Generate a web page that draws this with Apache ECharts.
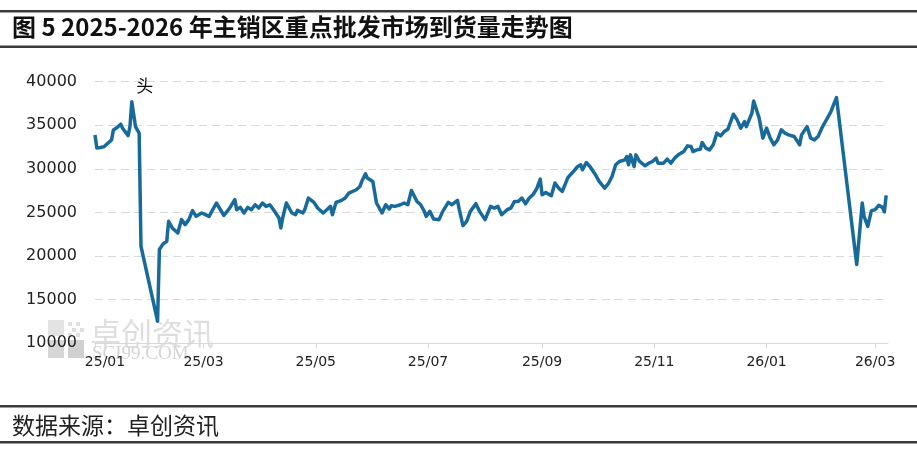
<!DOCTYPE html>
<html>
<head>
<meta charset="utf-8">
<script src="https://cdn.jsdelivr.net/npm/echarts@6/dist/echarts.min.js"></script>
<style>
html,body{margin:0;padding:0;background:#fff;}
#chart{width:917px;height:452px;}
</style>
</head>
<body>
<div id="chart"></div>
<script>
const titleText = '图 5 2025-2026 年主销区重点批发市场到货量走势图';
const sourceText = '数据来源：卓创资讯';
const annotationText = '头';
const annotationDate = '2025-01-28';
const annotationValue = 39600;

const dates = [
'2025-01-01','2025-01-02','2025-01-04','2025-01-06','2025-01-08','2025-01-10','2025-01-11','2025-01-13','2025-01-15','2025-01-16',
'2025-01-19','2025-01-20','2025-01-21','2025-01-22','2025-01-23','2025-01-24','2025-01-25','2025-01-26','2025-02-04','2025-02-05',
'2025-02-07','2025-02-09','2025-02-10','2025-02-12','2025-02-13','2025-02-15','2025-02-17','2025-02-19','2025-02-21','2025-02-23',
'2025-02-25','2025-02-28','2025-03-02','2025-03-04','2025-03-08','2025-03-12','2025-03-15','2025-03-18','2025-03-19','2025-03-21',
'2025-03-23','2025-03-25','2025-03-27','2025-03-29','2025-03-31','2025-04-02','2025-04-04','2025-04-06','2025-04-08','2025-04-11',
'2025-04-12','2025-04-13','2025-04-15','2025-04-18','2025-04-20','2025-04-21','2025-04-24','2025-04-25','2025-04-27','2025-04-30',
'2025-05-02','2025-05-05','2025-05-07','2025-05-09','2025-05-10','2025-05-12','2025-05-15','2025-05-17','2025-05-19','2025-05-20',
'2025-05-23','2025-05-25','2025-05-26','2025-05-28','2025-05-29','2025-06-01','2025-06-03','2025-06-06','2025-06-08','2025-06-10',
'2025-06-11','2025-06-13','2025-06-16','2025-06-18','2025-06-20','2025-06-22','2025-06-25','2025-06-27','2025-06-29','2025-06-30',
'2025-07-02','2025-07-04','2025-07-07','2025-07-09','2025-07-12','2025-07-14','2025-07-17','2025-07-18','2025-07-20','2025-07-22',
'2025-07-24','2025-07-27','2025-07-29','2025-08-01','2025-08-04','2025-08-06','2025-08-08','2025-08-10','2025-08-13','2025-08-15',
'2025-08-17','2025-08-19','2025-08-21','2025-08-23','2025-08-25','2025-08-27','2025-08-29','2025-08-31','2025-09-01','2025-09-03',
'2025-09-06','2025-09-08','2025-09-10','2025-09-12','2025-09-15','2025-09-18','2025-09-20','2025-09-22','2025-09-23','2025-09-25',
'2025-09-27','2025-09-30','2025-10-02','2025-10-05','2025-10-07','2025-10-09','2025-10-11','2025-10-13','2025-10-16','2025-10-17',
'2025-10-18','2025-10-19','2025-10-21','2025-10-22','2025-10-24','2025-10-27','2025-10-29','2025-10-31','2025-11-02','2025-11-03',
'2025-11-06','2025-11-08','2025-11-10','2025-11-12','2025-11-14','2025-11-17','2025-11-19','2025-11-21','2025-11-22','2025-11-24',
'2025-11-26','2025-11-27','2025-11-29','2025-12-01','2025-12-03','2025-12-05','2025-12-07','2025-12-09','2025-12-11','2025-12-14',
'2025-12-16','2025-12-18','2025-12-20','2025-12-21','2025-12-24','2025-12-25','2025-12-28','2025-12-30','2026-01-01','2026-01-03',
'2026-01-05','2026-01-07','2026-01-09','2026-01-11','2026-01-13','2026-01-16','2026-01-17','2026-01-19','2026-01-20','2026-01-23',
'2026-01-25','2026-01-27','2026-01-29','2026-01-31','2026-02-03','2026-02-05','2026-02-06','2026-02-08','2026-02-19','2026-02-22',
'2026-02-23','2026-02-25','2026-02-27','2026-03-01','2026-03-03','2026-03-05','2026-03-06','2026-03-07'
];

const values = [
33900,32400,32450,32560,32950,33330,34470,34740,35130,34670,
33820,34850,37710,37530,34850,34470,34100,21120,12540,20750,
21400,21700,23990,23230,23410,22650,24180,23610,24180,25210,
24560,24940,24750,24560,26090,24670,25440,26470,25320,25590,
24940,25590,25320,25890,25510,26090,25700,25890,25320,24370,
23230,24370,26090,24940,24750,25240,24940,25320,26660,26160,
25510,24940,25320,25700,24750,26160,26390,26660,27230,27040,
27610,27990,28560,29440,28950,28560,26090,24940,25890,25400,
25780,25700,25890,26090,25890,27530,26270,25890,25130,24560,
25130,24250,24180,25130,26160,25890,26390,25320,23490,23990,
25130,26010,25130,24180,25700,25510,25700,24750,25320,25510,
26270,26270,26660,26010,26660,27040,27690,28830,27040,27300,
26920,28380,27800,27420,29000,29700,30210,30470,29900,30730,
30280,29330,28560,27800,28300,29130,30470,30850,31040,31420,
30470,31610,30280,31610,30850,30360,30660,30850,31230,30660,
30660,31120,30660,31230,31610,31990,32640,32560,31990,32180,
32260,33020,32380,32180,32760,34100,33790,34280,34550,36270,
35620,34670,35420,34850,36380,37790,35810,33530,34670,33530,
32760,33330,34470,34100,33900,33710,33530,32760,33900,34850,
33530,33330,33710,34670,35810,36570,37140,38170,19030,26090,
24560,23410,25210,25320,25820,25590,25060,26960
];

const tickDates = ['2025-01-01','2025-03-01','2025-05-01','2025-07-01','2025-09-01','2025-11-01','2026-01-01','2026-03-01'];
const tickLabels = ['25/01','25/03','25/05','25/07','25/09','25/11','26/01','26/03'];
const axisStart = '2025-01-01';
const axisEnd = '2026-03-08';
const yMin = 10000, yMax = 40000, yStep = 5000;

// day offset from axisStart (x axis is a numeric day scale)
function dayOf(s){
  const p = s.split('-').map(Number);
  const q = axisStart.split('-').map(Number);
  return Math.round((Date.UTC(p[0], p[1]-1, p[2]) - Date.UTC(q[0], q[1]-1, q[2])) / 86400000);
}
const tickDays = tickDates.map(dayOf);
const labelOf = {};
tickDays.forEach((t,i)=>{ labelOf[t] = tickLabels[i]; });

const seriesData = dates.map((d,i)=>[dayOf(d), values[i]]);

const chart = echarts.init(document.getElementById('chart'), null, {renderer:'canvas'});
const lineColor = '#186a9b';
const ruleColor = '#3a3a3a';

chart.setOption({
  animation:false,
  backgroundColor:'#ffffff',
  grid:{left:95, right:29, top:81.7, bottom:108.7, containLabel:false},
  xAxis:{
    type:'value',
    min: dayOf(axisStart),
    max: dayOf(axisEnd),
    axisLine:{show:true, onZero:false, lineStyle:{color:'#d9d9d9', width:1}},
    axisTick:{show:true, customValues: tickDays, length:5, lineStyle:{color:'#d9d9d9'}},
    splitLine:{show:false},
    axisLabel:{
      customValues: tickDays,
      margin:12,
      color:'#222',
      fontFamily:'DejaVu Sans',
      fontSize:14,
      formatter:function(v){
        const lab = labelOf[Math.round(v)] || '';
        return Math.round(v) === tickDays[0] ? '{first|' + lab + '}' : lab;
      },
      rich:{first:{padding:[0,0,0,20], color:'#222', fontFamily:'DejaVu Sans', fontSize:14}}
    }
  },
  yAxis:{
    type:'value',
    min:yMin, max:yMax, interval:yStep,
    axisLine:{show:false},
    axisTick:{show:false},
    axisLabel:{margin:18, color:'#222', fontFamily:'DejaVu Sans', fontSize:16, formatter:function(v){ return String(v); }},
    splitLine:{show:true, lineStyle:{color:'#d9d9d9', type:[8,5], width:1}}
  },
  graphic:[
    {type:'rect', left:0, top:10, shape:{width:917, height:2.5}, style:{fill:ruleColor}, silent:true},
    {type:'rect', left:0, top:45.5, shape:{width:917, height:2.5}, style:{fill:ruleColor}, silent:true},
    {type:'text', left:12, top:15, style:{text:titleText, fill:'#111', font:'bold 24px "Noto Sans CJK SC"'}},
    {type:'rect', left:0, top:405, shape:{width:917, height:2.5}, style:{fill:ruleColor}, silent:true},
    {type:'rect', left:0, top:441, shape:{width:917, height:2.5}, style:{fill:ruleColor}, silent:true},
    {type:'text', left:12, top:414, style:{text:sourceText, fill:'#222', font:'23px "Noto Sans CJK SC"'}},
    {type:'group', left:48, top:318, z:-1, children:[
      {type:'rect', shape:{x:0,y:0,width:16,height:16}, style:{fill:'#e3e3e3'}},
      {type:'rect', shape:{x:0,y:20,width:16,height:18}, style:{fill:'#d6d6d6'}},
      {type:'rect', shape:{x:20,y:20,width:16,height:18}, style:{fill:'#d0d0d0'}},
      {type:'rect', shape:{x:20,y:2,width:4,height:4}, style:{fill:'#e0e0e0'}},
      {type:'rect', shape:{x:28,y:2,width:4,height:4}, style:{fill:'#e0e0e0'}},
      {type:'rect', shape:{x:24,y:8,width:4,height:4}, style:{fill:'#e0e0e0'}},
      {type:'rect', shape:{x:32,y:8,width:4,height:4}, style:{fill:'#e0e0e0'}},
      {type:'rect', shape:{x:20,y:13,width:4,height:4}, style:{fill:'#e0e0e0'}},
      {type:'rect', shape:{x:28,y:13,width:4,height:4}, style:{fill:'#e0e0e0'}},
      {type:'text', x:42, y:-2, style:{text:'卓创资讯', fill:'#dedede', font:'31px "Noto Sans CJK SC"'}},
      {type:'text', x:44, y:25, style:{text:'SCI99.COM', fill:'#d4d4d4', font:'19px "Liberation Serif"'}}
    ]}
  ],
  series:[{
    type:'line',
    data:seriesData,
    showSymbol:false,
    symbol:'none',
    lineStyle:{color:lineColor, width:3.5, join:'round'},
    z:3,
    markPoint:{
      symbol:'circle', symbolSize:0,
      label:{show:true, position:'inside', formatter:annotationText, color:'#111', fontSize:17, fontFamily:'Noto Sans CJK SC'},
      data:[{coord:[dayOf(annotationDate), annotationValue]}]
    }
  }]
});
</script>
</body>
</html>
